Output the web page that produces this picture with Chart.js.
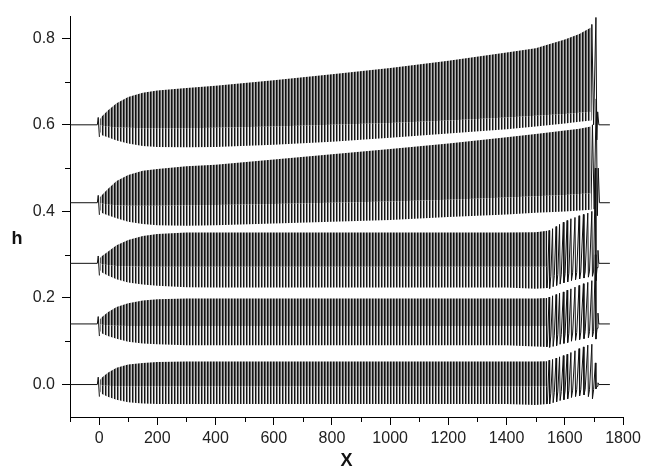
<!DOCTYPE html>
<html>
<head>
<meta charset="utf-8">
<script src="https://cdn.jsdelivr.net/npm/chart.js@4.4.1/dist/chart.umd.min.js"></script>
<style>
  html, body { margin: 0; padding: 0; background: #fff; }
  #wrap { width: 654px; height: 468px; }
</style>
</head>
<body>
<div id="wrap"><canvas id="chart" width="654" height="468"></canvas></div>
<script>
// Axis ticks
const xTicks = [0, 200, 400, 600, 800, 1000, 1200, 1400, 1600, 1800];
const xMinor = [-100, 100, 300, 500, 700, 900, 1100, 1300, 1500, 1700];
const yTicks = [0.0, 0.2, 0.4, 0.6, 0.8];
const yMinor = [0.1, 0.3, 0.5, 0.7];

// Baseline of each trace (top to bottom)
const baselines = [0.60, 0.42, 0.28, 0.14, 0.0];

// Flat lead-in with the small kick at x = 0 (offsets from baseline)
const leadX = [-100, -6, -3, 1];
const leadDY = [0, 0, 0.017, -0.028];

// Oscillation envelopes (max / dense band / min of h)
const envX = [2, 10, 30, 60, 100, 150, 200, 300, 400, 600, 800, 1000, 1200, 1400, 1500, 1540];
const envXLong = [2, 10, 30, 60, 100, 150, 200, 300, 400, 600, 800, 1000, 1200, 1400, 1500, 1600, 1650, 1690];

const t1Upper = [0.612, 0.62, 0.633, 0.65, 0.664, 0.674, 0.679, 0.685, 0.69, 0.703, 0.717, 0.731, 0.748, 0.767, 0.777, 0.797, 0.81, 0.825];
const t1Mid = [0.6, 0.598, 0.596, 0.594, 0.593, 0.592, 0.592, 0.592, 0.593, 0.596, 0.6, 0.604, 0.61, 0.617, 0.621, 0.625, 0.628, 0.63];
const t1Lower = [0.585, 0.576, 0.571, 0.564, 0.557, 0.551, 0.549, 0.548, 0.549, 0.554, 0.561, 0.57, 0.58, 0.59, 0.596, 0.603, 0.607, 0.61];
const t2Upper = [0.432, 0.438, 0.452, 0.47, 0.484, 0.494, 0.498, 0.504, 0.508, 0.52, 0.532, 0.544, 0.557, 0.571, 0.579, 0.587, 0.591, 0.596];
const t2Mid = [0.42, 0.418, 0.416, 0.414, 0.413, 0.413, 0.413, 0.414, 0.415, 0.417, 0.42, 0.423, 0.427, 0.432, 0.435, 0.438, 0.44, 0.442];
const t2Lower = [0.405, 0.396, 0.391, 0.384, 0.376, 0.371, 0.368, 0.367, 0.368, 0.372, 0.376, 0.38, 0.387, 0.393, 0.397, 0.4, 0.402, 0.404];
const t3Upper = [0.292, 0.297, 0.307, 0.322, 0.334, 0.343, 0.348, 0.351, 0.351, 0.351, 0.351, 0.351, 0.351, 0.351, 0.352, 0.355];
const t3Mid = [0.28, 0.278, 0.276, 0.274, 0.273, 0.272, 0.272, 0.272, 0.272, 0.272, 0.272, 0.272, 0.272, 0.272, 0.272, 0.272];
const t3Lower = [0.265, 0.259, 0.252, 0.243, 0.236, 0.231, 0.228, 0.225, 0.224, 0.224, 0.224, 0.224, 0.224, 0.224, 0.221, 0.223];
const t4Upper = [0.15, 0.156, 0.167, 0.179, 0.188, 0.194, 0.197, 0.199, 0.199, 0.199, 0.199, 0.199, 0.199, 0.199, 0.199, 0.2];
const t4Mid = [0.14, 0.138, 0.137, 0.136, 0.135, 0.135, 0.135, 0.135, 0.135, 0.135, 0.135, 0.135, 0.135, 0.135, 0.135, 0.135];
const t4Lower = [0.125, 0.118, 0.112, 0.106, 0.099, 0.095, 0.093, 0.091, 0.091, 0.091, 0.091, 0.091, 0.091, 0.091, 0.088, 0.087];
const t5Upper = [0.01, 0.016, 0.027, 0.039, 0.046, 0.05, 0.052, 0.053, 0.053, 0.053, 0.053, 0.053, 0.053, 0.053, 0.053, 0.054];
const t5Mid = [0.0, -0.002, -0.003, -0.004, -0.004, -0.004, -0.004, -0.004, -0.004, -0.004, -0.004, -0.004, -0.004, -0.004, -0.004, -0.004];
const t5Lower = [-0.015, -0.022, -0.028, -0.035, -0.041, -0.044, -0.045, -0.045, -0.045, -0.045, -0.045, -0.045, -0.045, -0.045, -0.047, -0.045];

// Final spikes of the two upper traces
const t1TailX = [1690, 1693, 1699, 1707, 1710, 1713, 1717, 1755];
const t1TailY = [0.61, 0.832, 0.6, 0.848, 0.565, 0.63, 0.6, 0.6];
const t2TailX = [1690, 1695, 1701, 1708, 1712, 1715, 1719, 1755];
const t2TailY = [0.404, 0.60, 0.405, 0.66, 0.39, 0.50, 0.42, 0.42];

// Spiky break-up of the three lower traces: rise to a peak, fall to a dip, settle on a floor
const tailPeakX = [1546, 1558, 1570, 1582, 1595, 1608, 1621, 1635, 1649, 1664, 1679, 1693, 1705];
const tailDipX = [1548, 1560, 1572, 1584, 1597, 1610, 1623, 1637, 1651, 1666, 1681, 1695, 1707];
const tailFloorX = [1552, 1564, 1576, 1588, 1601, 1614, 1627, 1641, 1655, 1670, 1685, 1699, 1711];
const tailEndX = [1714, 1717, 1755];
const t3TailPeak = [0.356, 0.36, 0.365, 0.37, 0.375, 0.379, 0.383, 0.386, 0.39, 0.393, 0.396, 0.40, 0.50];
const t3TailDip = [0.222, 0.226, 0.229, 0.232, 0.235, 0.237, 0.24, 0.242, 0.244, 0.246, 0.248, 0.25, 0.24];
const t3TailFloor = [0.25, 0.252, 0.254, 0.255, 0.256, 0.257, 0.258, 0.259, 0.26, 0.26, 0.262, 0.262, 0.27];
const t3TailEnd = [0.31, 0.28, 0.28];
const t4TailPeak = [0.202, 0.205, 0.208, 0.211, 0.214, 0.218, 0.221, 0.225, 0.229, 0.233, 0.236, 0.24, 0.30];
const t4TailDip = [0.086, 0.088, 0.09, 0.093, 0.095, 0.097, 0.1, 0.102, 0.104, 0.106, 0.108, 0.11, 0.105];
const t4TailFloor = [0.112, 0.114, 0.115, 0.116, 0.117, 0.118, 0.119, 0.12, 0.121, 0.122, 0.122, 0.123, 0.13];
const t4TailEnd = [0.165, 0.14, 0.14];
const t5TailPeak = [0.056, 0.058, 0.061, 0.064, 0.067, 0.07, 0.074, 0.078, 0.083, 0.087, 0.091, 0.093, 0.05];
const t5TailDip = [-0.045, -0.042, -0.04, -0.037, -0.035, -0.033, -0.03, -0.028, -0.026, -0.024, -0.028, -0.033, -0.01];
const t5TailFloor = [-0.02, -0.018, -0.017, -0.016, -0.015, -0.014, -0.013, -0.012, -0.012, -0.011, -0.012, -0.012, -0.004];
const t5TailEnd = [0.004, 0.0, 0.0];

function pts(xs, ys) {
    return xs.map((x, i) => ({ x: x, y: ys[i] }));
}

function spikes(start, peak, dip, floor, end) {
    const out = [start];
    tailPeakX.forEach((x, i) => {
        out.push({ x: x, y: peak[i] });
        out.push({ x: tailDipX[i], y: dip[i] });
        out.push({ x: tailFloorX[i], y: floor[i] });
    });
    tailEndX.forEach((x, i) => out.push({ x: x, y: end[i] }));
    return out;
}

// Vertical hatches used to render the dense oscillation
const canvas = document.getElementById('chart');
const ctx = canvas.getContext('2d');
function hatch(cols) {
    const c = document.createElement('canvas');
    c.width = cols.length; c.height = 1;
    const g = c.getContext('2d');
    cols.forEach((col, i) => {
        g.fillStyle = col;
        g.fillRect(i, 0, 1, 1);
    });
    return ctx.createPattern(c, 'repeat');
}
const darkStripes = hatch(['#111111', '#5a5a5a', '#b4b4b4']);
const lightStripes = hatch(['#151515', '#8a8a8a', '#f2f2f2']);

const traces = [
    { xs: envXLong, upper: t1Upper, mid: t1Mid, lower: t1Lower, tail: pts(t1TailX, t1TailY) },
    { xs: envXLong, upper: t2Upper, mid: t2Mid, lower: t2Lower, tail: pts(t2TailX, t2TailY) },
    { xs: envX, upper: t3Upper, mid: t3Mid, lower: t3Lower, tail: spikes({ x: 1540, y: t3Lower[15] }, t3TailPeak, t3TailDip, t3TailFloor, t3TailEnd) },
    { xs: envX, upper: t4Upper, mid: t4Mid, lower: t4Lower, tail: spikes({ x: 1540, y: t4Lower[15] }, t4TailPeak, t4TailDip, t4TailFloor, t4TailEnd) },
    { xs: envX, upper: t5Upper, mid: t5Mid, lower: t5Lower, tail: spikes({ x: 1540, y: t5Lower[15] }, t5TailPeak, t5TailDip, t5TailFloor, t5TailEnd) }
];

const lineStyle = { borderColor: '#111', borderWidth: 1, pointRadius: 0, fill: false, tension: 0 };
const bandStyle = { borderWidth: 0, borderColor: 'rgba(0,0,0,0)', pointRadius: 0, tension: 0 };
const datasets = [];
traces.forEach((t, k) => {
    const base = baselines[k];
    datasets.push(Object.assign({ data: pts(t.xs, t.upper), fill: '+1', backgroundColor: darkStripes }, bandStyle));
    datasets.push(Object.assign({ data: pts(t.xs, t.mid), fill: '+1', backgroundColor: lightStripes }, bandStyle));
    datasets.push(Object.assign({ data: pts(t.xs, t.lower), fill: false }, bandStyle));
    datasets.push(Object.assign({ data: leadX.map((x, i) => ({ x: x, y: base + leadDY[i] })) }, lineStyle));
    datasets.push(Object.assign({ data: t.tail }, lineStyle));
});

// Minor ticks and the upright "h" label
const extras = {
    id: 'extras',
    afterDraw(chart) {
        const { ctx, scales: { x, y } } = chart;
        ctx.save();
        ctx.strokeStyle = '#000';
        ctx.lineWidth = 1;
        ctx.beginPath();
        xMinor.forEach(v => {
            const px = Math.round(x.getPixelForValue(v)) + 0.5;
            ctx.moveTo(px, y.bottom);
            ctx.lineTo(px, y.bottom + 5);
        });
        yMinor.forEach(v => {
            const py = Math.round(y.getPixelForValue(v)) + 0.5;
            ctx.moveTo(x.left - 5, py);
            ctx.lineTo(x.left, py);
        });
        ctx.stroke();
        ctx.font = 'bold 18px "Liberation Sans", Arial, sans-serif';
        ctx.fillStyle = '#111';
        ctx.textAlign = 'center';
        ctx.textBaseline = 'middle';
        ctx.fillText('h', 17, 239);
        ctx.restore();
    }
};

const tickFont = { family: '"Liberation Sans", Arial, sans-serif', size: 16 };

new Chart(ctx, {
    type: 'line',
    data: { datasets: datasets },
    plugins: [extras],
    options: {
        responsive: false,
        animation: false,
        devicePixelRatio: 1,
        layout: { padding: { top: 8, right: 31, left: 0, bottom: 0 } },
        plugins: { legend: { display: false }, tooltip: { enabled: false } },
        scales: {
            x: {
                type: 'linear',
                min: -100,
                max: 1800,
                afterBuildTicks: (scale) => { scale.ticks = xTicks.map(v => ({ value: v })); },
                afterFit: (scale) => { scale.height = 51; },
                grid: { drawOnChartArea: false, drawTicks: true, tickLength: 8, color: '#000' },
                border: { display: true, color: '#000', width: 1 },
                ticks: { font: tickFont, color: '#222', padding: 4, maxRotation: 0, autoSkip: false,
                    callback: (v) => String(v) },
                title: { display: true, text: 'X', color: '#111',
                    font: { family: '"Liberation Sans", Arial, sans-serif', size: 18, weight: 'bold', lineHeight: 1 },
                    padding: { top: 0, bottom: -2 } }
            },
            y: {
                type: 'linear',
                min: -0.075,
                max: 0.85,
                afterBuildTicks: (scale) => { scale.ticks = yTicks.map(v => ({ value: v })); },
                afterFit: (scale) => { scale.width = 70; },
                grid: { drawOnChartArea: false, drawTicks: true, tickLength: 8, color: '#000' },
                border: { display: true, color: '#000', width: 1 },
                ticks: { font: tickFont, color: '#222', padding: 7, callback: (v) => v.toFixed(1) }
            }
        }
    }
});
</script>
</body>
</html>
